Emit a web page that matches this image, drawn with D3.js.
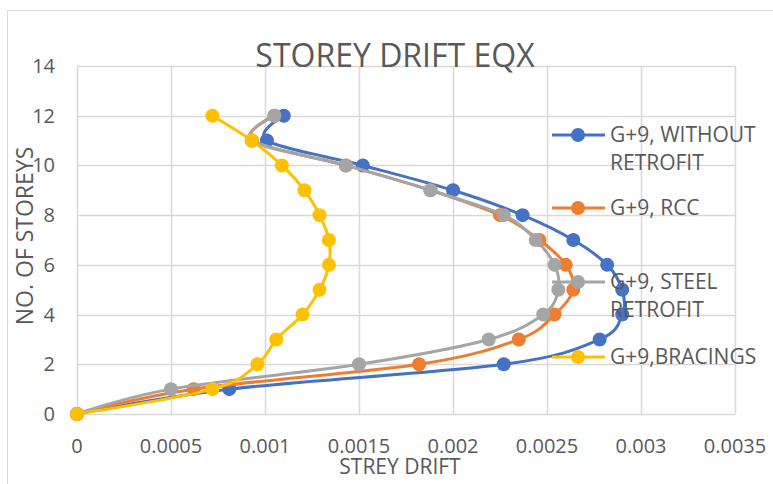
<!DOCTYPE html>
<html><head><meta charset="utf-8">
<script src="https://cdn.jsdelivr.net/npm/d3@7"></script>
<style>
html,body{margin:0;padding:0;background:#fff;}
svg{display:block;font-family:"Open Sans",sans-serif;}
</style></head>
<body><svg id="c" width="773" height="484"></svg>
<script>
const storeys = [0,1,2,3,4,5,6,7,8,9,10,11,12];
const withoutRetrofit = [0,0.00081,0.00227,0.00278,0.00290,0.00290,0.00282,0.00264,0.00237,0.00200,0.00152,0.00101,0.00110];
const rcc            = [0,0.00062,0.00182,0.00235,0.00254,0.00264,0.00260,0.00246,0.00225,0.00188,0.00143,0.00093,0.00105];
const steelRetrofit  = [0,0.00050,0.00150,0.00219,0.00248,0.00256,0.00254,0.00244,0.00227,0.00188,0.00143,0.00093,0.00105];
const bracings       = [0,0.00072,0.00096,0.00106,0.00120,0.00129,0.00134,0.00134,0.00129,0.00121,0.00109,0.00093,0.00072];
const seriesNames = ["G+9, WITHOUT RETROFIT","G+9, RCC","G+9, STEEL RETROFIT","G+9,BRACINGS"];
const legendLines = [["G+9, WITHOUT","RETROFIT"],["G+9, RCC"],["G+9, STEEL","RETROFIT"],["G+9,BRACINGS"]];
const colors = ["#4472C4","#ED7D31","#A5A5A5","#FFC000"];
const xTicks = [0,0.0005,0.001,0.0015,0.002,0.0025,0.003,0.0035];
const xTickLabels = ["0","0.0005","0.001","0.0015","0.002","0.0025","0.003","0.0035"];
const yTicks = [0,2,4,6,8,10,12,14];
const allSeries = [withoutRetrofit, rcc, steelRetrofit, bracings];

const svg = d3.select("#c");
const L=77, R=735, T=66, B=414;
const x = d3.scaleLinear().domain([0,0.0035]).range([L,R]);
const y = d3.scaleLinear().domain([0,14]).range([B,T]);
const txt = "#595959", grid = "#d9d9d9";

// outer border
svg.append("rect").attr("x",7.5).attr("y",10.5).attr("width",800).attr("height",500)
  .attr("fill","none").attr("stroke","#d9d9d9");

// gridlines
svg.append("g").selectAll("line").data(yTicks).join("line")
  .attr("x1",L).attr("x2",R).attr("y1",d=>Math.round(y(d))+0.5).attr("y2",d=>Math.round(y(d))+0.5)
  .attr("stroke",grid).attr("stroke-width",1.5);
svg.append("g").selectAll("line").data(xTicks).join("line")
  .attr("y1",T).attr("y2",B).attr("x1",d=>Math.round(x(d))+0.5).attr("x2",d=>Math.round(x(d))+0.5)
  .attr("stroke",grid).attr("stroke-width",1.5);

// tick labels
svg.append("g").selectAll("text").data(xTicks).join("text")
  .attr("x",d=>x(d)).attr("y",453).attr("text-anchor","middle")
  .attr("font-size",20).attr("fill",txt).text((d,i)=>xTickLabels[i]);
svg.append("g").selectAll("text").data(yTicks).join("text")
  .attr("x",55).attr("y",d=>y(d)+7).attr("text-anchor","end")
  .attr("font-size",20).attr("fill",txt).text(d=>d);

// axis titles
svg.append("text").attr("x",400).attr("y",474).attr("text-anchor","middle")
  .attr("font-size",21).attr("fill",txt).text("STREY DRIFT");
svg.append("text").attr("transform","translate(33,236) rotate(-90)").attr("text-anchor","middle")
  .attr("font-size",23).attr("fill",txt).text("NO. OF STOREYS");

// series
const line = d3.line().x(d=>x(d[0])).y(d=>y(d[1])).curve(d3.curveCardinal.tension(0));
allSeries.forEach((vals,i)=>{
  const pts = vals.map((v,j)=>[v,storeys[j]]);
  const g = svg.append("g");
  g.append("path").attr("d",line(pts)).attr("fill","none").attr("stroke",colors[i]).attr("stroke-width",3);
  g.selectAll("circle").data(pts).join("circle").attr("cx",d=>x(d[0])).attr("cy",d=>y(d[1]))
    .attr("r",7).attr("fill",colors[i]);
});

// title
svg.append("text").attr("x",395).attr("y",67).attr("text-anchor","middle")
  .attr("font-size",32).attr("fill",txt).text("STOREY DRIFT EQX");

// legend
const legY = [135,208,282,357];
legendLines.forEach((lines,i)=>{
  const g = svg.append("g");
  g.append("line").attr("x1",552).attr("x2",605).attr("y1",legY[i]).attr("y2",legY[i])
    .attr("stroke",colors[i]).attr("stroke-width",3);
  g.append("circle").attr("cx",578).attr("cy",legY[i]).attr("r",7).attr("fill",colors[i]);
  lines.forEach((t,k)=>{
    g.append("text").attr("x",610).attr("y",legY[i]+7+k*28).attr("font-size",21).attr("fill",txt).text(t);
  });
});
</script></body></html>
